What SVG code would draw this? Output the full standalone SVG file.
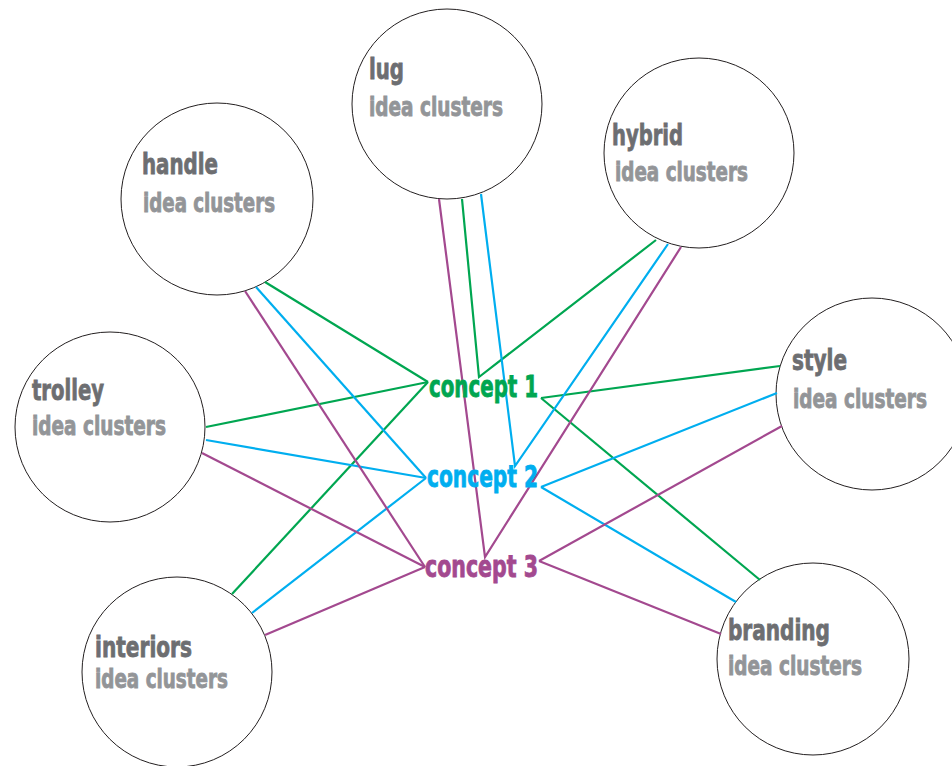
<svg xmlns="http://www.w3.org/2000/svg" width="952" height="766" viewBox="0 0 952 766">
<style>
.c{fill:#fff;stroke:#231f20;stroke-width:1}
.t{font-family:"Liberation Sans Narrow","DejaVu Sans Condensed","Liberation Sans",sans-serif;font-weight:bold;font-size:29px;fill:#6d6e71;stroke:#6d6e71;stroke-width:0.8}
.s{font-family:"Liberation Sans Narrow","DejaVu Sans Condensed","Liberation Sans",sans-serif;font-weight:bold;font-size:26px;fill:#939598;stroke:#939598;stroke-width:0.8}
.k{font-family:"Liberation Sans Narrow","DejaVu Sans Condensed","Liberation Sans",sans-serif;font-weight:bold;font-size:30px;stroke-width:0.8}
.g{stroke:#00a651;stroke-width:2.2;fill:none}
.b{stroke:#00aeef;stroke-width:2.2;fill:none}
.p{stroke:#a3498f;stroke-width:2.2;fill:none}
</style>
<rect width="952" height="766" fill="#fff"/>
<g id="node-handle"><circle class="c" cx="217" cy="199" r="96"/><text class="t" x="142" y="174" textLength="76" lengthAdjust="spacingAndGlyphs">handle</text><text class="s" x="143" y="212" textLength="132" lengthAdjust="spacingAndGlyphs">idea clusters</text></g>
<g id="node-lug"><circle class="c" cx="447" cy="104" r="95"/><text class="t" x="369" y="79" textLength="35" lengthAdjust="spacingAndGlyphs">lug</text><text class="s" x="369" y="116" textLength="134" lengthAdjust="spacingAndGlyphs">idea clusters</text></g>
<g id="node-hybrid"><circle class="c" cx="699" cy="153" r="95"/><text class="t" x="612" y="145" textLength="71" lengthAdjust="spacingAndGlyphs">hybrid</text><text class="s" x="615" y="181" textLength="133" lengthAdjust="spacingAndGlyphs">idea clusters</text></g>
<g id="node-trolley"><circle class="c" cx="110" cy="427" r="95"/><text class="t" x="32" y="400" textLength="72" lengthAdjust="spacingAndGlyphs">trolley</text><text class="s" x="32" y="435" textLength="134" lengthAdjust="spacingAndGlyphs">idea clusters</text></g>
<g id="node-style"><circle class="c" cx="872" cy="394" r="96"/><text class="t" x="792" y="370" textLength="55" lengthAdjust="spacingAndGlyphs">style</text><text class="s" x="793" y="408" textLength="134" lengthAdjust="spacingAndGlyphs">idea clusters</text></g>
<g id="node-interiors"><circle class="c" cx="177" cy="672" r="95"/><text class="t" x="95" y="657" textLength="97" lengthAdjust="spacingAndGlyphs">interiors</text><text class="s" x="95" y="688" textLength="133" lengthAdjust="spacingAndGlyphs">idea clusters</text></g>
<g id="node-branding"><circle class="c" cx="813" cy="659" r="96"/><text class="t" x="728" y="640" textLength="102" lengthAdjust="spacingAndGlyphs">branding</text><text class="s" x="728" y="675" textLength="134" lengthAdjust="spacingAndGlyphs">idea clusters</text></g>
<g id="connectors">
<line class="g" x1="265" y1="282" x2="428" y2="382"/>
<line class="g" x1="206" y1="427" x2="428" y2="382"/>
<line class="g" x1="232" y1="594" x2="428" y2="382"/>
<polyline class="g" points="462,199 479,377 656,240"/>
<line class="g" x1="780" y1="366" x2="541" y2="398"/>
<line class="g" x1="541" y1="398" x2="760" y2="580"/>
<line class="b" x1="256" y1="287" x2="426" y2="478"/>
<line class="b" x1="206" y1="440" x2="426" y2="478"/>
<line class="b" x1="252" y1="613" x2="426" y2="478"/>
<polyline class="b" points="481,194 515,466 668,244"/>
<line class="b" x1="777" y1="393" x2="541" y2="487"/>
<line class="b" x1="541" y1="487" x2="736" y2="602"/>
<line class="p" x1="245" y1="291" x2="425" y2="567"/>
<line class="p" x1="202" y1="453" x2="425" y2="567"/>
<line class="p" x1="265" y1="635" x2="425" y2="567"/>
<polyline class="p" points="439,199 485,557 681,247"/>
<line class="p" x1="782" y1="426" x2="539" y2="561"/>
<line class="p" x1="539" y1="561" x2="721" y2="634"/>
</g>
<g id="node-concept1"><text class="k" x="429" y="397" fill="#00a651" stroke="#00a651" textLength="109" lengthAdjust="spacingAndGlyphs">concept 1</text></g>
<g id="node-concept2"><text class="k" x="427" y="487" fill="#00aeef" stroke="#00aeef" textLength="111" lengthAdjust="spacingAndGlyphs">concept 2</text></g>
<g id="node-concept3"><text class="k" x="425" y="577" fill="#a3498f" stroke="#a3498f" textLength="113" lengthAdjust="spacingAndGlyphs">concept 3</text></g>
</svg>
